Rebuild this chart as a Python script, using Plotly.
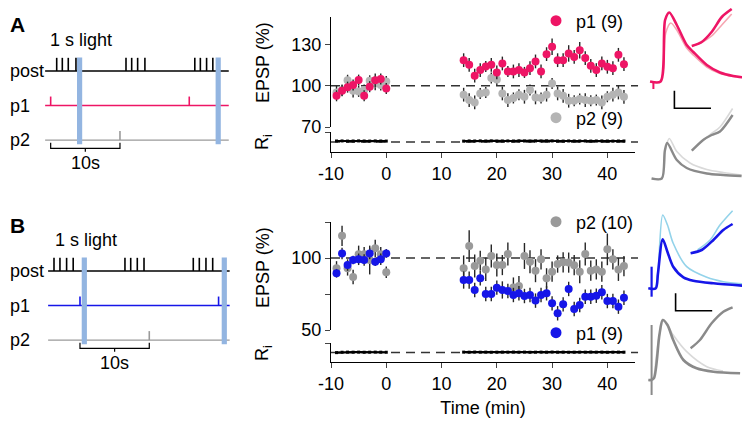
import plotly.graph_objects as go

# the page keeps the browser's 8px body margin, so the figure is drawn that much smaller
PAGE_W, PAGE_H = 750, 421
OFF = 8
W, H = PAGE_W - OFF, PAGE_H - OFF
FONT = "Liberation Sans, Arial, Helvetica, sans-serif"

PINK = "#ee1565"
PINK_LIGHT = "#f6a6b2"
GRAY_A = "#b4b4b4"
GRAY_B = "#9a9a9a"
GRAY_DARK = "#8a8a8a"
GRAY_LIGHT = "#d9d9d9"
BLUE = "#1616e8"
BLUE_LIGHT = "#93d3ea"
LIGHT_BAR = "#93b5e1"
ERR = "#262626"

# ---------------- time course (min) ----------------
TIME_PRE = [-9, -8, -7, -6, -5, -4, -3, -2, -1, 0]
TIME_POST = [14, 15, 16, 17, 18, 19, 20, 21, 22, 23, 24, 25, 26, 27, 28,
             29, 30, 31, 32, 33, 34, 35, 36, 37, 38, 39, 40, 41, 42, 43]
TIME_TICKS = [-10, 0, 10, 20, 30, 40]
TIME_TICK_LABELS = ["-10", "0", "10", "20", "30", "40"]

# panel A, EPSP (% of baseline)
A_P1_PRE = [92.7, 96.4, 99.0, 100.5, 104.1, 92.7, 99.3, 104.0, 104.9, 98.0]
A_P1_PRE_ERR = [4, 4, 4, 4, 4, 4, 4, 5, 4, 4]
A_P2_PRE = [95.1, 96.9, 104.0, 96.4, 95.9, 97.0, 103.6, 101.7, 100.5, 103.1]
A_P2_PRE_ERR = [5, 4, 4, 5, 4, 4, 4, 5, 4, 4]
A_P1_POST = [118.6, 115.2, 107.3, 111.4, 114.0, 115.2, 109.7, 116.2, 110.4, 110.4,
             111.4, 109.7, 112.8, 117.7, 110.4, 123.0, 128.3, 118.6, 118.6, 123.5,
             121.0, 125.9, 120.1, 114.5, 111.4, 116.2, 113.8, 112.8, 122.5, 115.7]
A_P1_POST_ERR = [5, 5, 5, 5, 4, 5, 5, 5, 4, 5, 5, 4, 5, 5, 5,
                 5, 6, 5, 5, 6, 5, 6, 5, 5, 5, 5, 5, 5, 5, 5]
A_P2_POST = [93.5, 89.6, 87.9, 94.4, 95.1, 105.6, 104.5, 94.4, 89.6, 91.1,
             93.5, 92.0, 96.9, 91.5, 91.1, 93.5, 101.7, 94.4, 92.7, 89.1,
             89.1, 90.3, 89.6, 89.1, 89.6, 87.9, 92.0, 93.5, 95.1, 92.0]
A_P2_POST_ERR = [5, 5, 5, 4, 4, 4, 4, 5, 5, 4, 4, 5, 4, 5, 4,
                 5, 4, 5, 5, 5, 4, 4, 5, 4, 4, 5, 4, 5, 5, 5]

# panel B, EPSP (% of baseline)
B_P1_PRE = [89.4, 103.2, 95.1, 98.6, 99.1, 98.6, 103.2, 97.4, 99.1, 103.2]
B_P1_PRE_ERR = [3, 4, 4, 3, 4, 4, 4, 3, 4, 3]
B_P2_PRE = [92.8, 115.4, 92.8, 86.8, 102.6, 102.6, 98.6, 106.7, 102.6, 90.1]
B_P2_PRE_ERR = [5, 7, 5, 5, 6, 5, 10, 6, 5, 4]
B_P1_POST = [84.7, 84.7, 77.8, 85.9, 75.0, 75.0, 79.4, 77.8, 77.1, 74.3,
             75.5, 73.6, 74.3, 70.4, 74.3, 75.5, 68.5, 61.6, 67.8, 78.5,
             64.6, 67.4, 73.1, 73.1, 73.8, 76.2, 70.1, 70.1, 66.2, 72.4]
B_P1_POST_ERR = [6, 6, 5, 5, 5, 5, 5, 6, 5, 5, 5, 5, 5, 5, 5,
                 5, 5, 5, 5, 5, 5, 5, 5, 5, 5, 5, 5, 5, 5, 5]
B_P2_POST = [92.8, 108.3, 94.4, 98.1, 92.1, 101.4, 95.1, 95.1, 102.8, 79.5,
             80.5, 101.4, 97.4, 91.2, 99.1, 85.9, 90.5, 95.8, 97.0, 96.8,
             95.0, 90.5, 102.8, 91.2, 92.1, 90.5, 106.0, 99.1, 92.1, 94.4]
B_P2_POST_ERR = [9, 11, 8, 7, 8, 8, 8, 7, 8, 7, 7, 9, 8, 8, 7,
                 7, 7, 6, 7, 7, 7, 8, 8, 7, 7, 7, 11, 7, 8, 7]

# input resistance (% of baseline)
RI_A_PRE = [101.5, 101.6, 101.4, 101.5, 101.7, 101.5, 101.4, 101.6, 101.5, 101.4]
RI_A_POST = [101.3, 101.6, 101.5, 101.7, 101.5, 101.6, 101.4, 101.5, 101.6, 101.5,
             101.7, 101.5, 101.4, 101.6, 101.5, 101.7, 101.6, 101.5, 101.4, 101.6,
             101.5, 101.5, 101.6, 101.4, 101.5, 101.6, 101.5, 101.4, 101.5, 101.5]
RI_B_PRE = [99.8, 100.4, 100.6, 100.5, 100.6, 100.4, 100.5, 100.6, 100.5, 100.4]
RI_B_POST = [100.6, 100.5, 100.7, 100.5, 100.6, 100.4, 100.5, 100.6, 100.5, 100.7,
             100.5, 100.6, 100.4, 100.5, 100.6, 100.5, 100.7, 100.5, 100.6, 100.4,
             100.5, 100.6, 100.5, 100.7, 100.5, 100.6, 100.4, 100.5, 100.6, 100.5]
BASELINE = 100
RI_BASELINE = 100

# ---------------- pairing protocol schematic (s) ----------------
ROWS = {"post": 2, "p1": 1, "p2": 0}
A_LINE_SPAN = [-0.8, 25.7]
A_BURSTS = [0.87, 1.68, 2.54, 3.65, 10.87, 11.69, 12.55, 13.6, 20.8, 21.6, 22.5, 23.4]
A_LIGHT = [3.8, 23.8]
A_P1_STIM = [0, 20]
A_P2_STIM = [10]
B_LINE_SPAN = [-4.6, 21.6]
B_BURSTS = [-3.75, -2.89, -1.93, -0.98, 6.49, 7.32, 8.27, 9.24, 16.35, 17.22, 18.18, 19.15]
B_LIGHT = [0.25, 20.45]
B_P1_STIM = [0, 20]
B_P2_STIM = [10]
LIGHT_DUR = 0.75
INTERVAL = [0, 10]

# ---------------- example EPSP traces (ms, mV) ----------------
A1_T = [0.7, 4.2, 5.7, 7.1, 9.6, 12.9, 15.1, 19.6, 24.0, 28.4, 32.3]
A1_POST = [2.05, 2.05, 8.2, 8.95, 7.7, 5.7, 5.0, 3.7, 2.95, 2.6, 2.45]
A1_BASE_T = [0.7, 4.2, 5.9, 7.6, 9.6, 12.9, 15.1, 19.6, 24.0, 28.4, 32.3]
A1_BASE = [2.05, 2.05, 6.9, 7.9, 7.2, 5.4, 4.7, 3.5, 2.85, 2.55, 2.45]
A1_INSET_T = [14.6, 17.9, 21.2, 24.6, 27.9]
A1_INSET_POST = [5.6, 6.0, 7.0, 8.5, 9.3]
A1_INSET_BASE = [5.6, 5.95, 6.6, 7.7, 8.8]
A1_ARTIFACT_T = [1.8, 1.8]
A1_ARTIFACT = [2.05, 1.3]

A2_T = [1.2, 4.6, 5.6, 6.4, 9.6, 12.9, 19.6, 25.1, 31.2]
A2_POST = [1.15, 1.15, 3.9, 4.7, 3.0, 2.2, 1.65, 1.5, 1.4]
A2_BASE_T = [1.2, 4.6, 5.9, 7.1, 9.6, 14.0, 19.6, 25.1, 31.2]
A2_BASE = [1.15, 1.15, 4.2, 5.15, 3.85, 2.7, 2.05, 1.75, 1.5]
A2_INSET_T = [14.6, 18.4, 21.2, 24.0, 28.2]
A2_INSET_POST = [3.93, 5.0, 5.5, 5.85, 7.5]
A2_INSET_BASE = [3.93, 5.0, 5.65, 6.3, 8.15]

B1_T = [0.1, 2.6, 3.3, 4.9, 6.5, 8.4, 11.8, 15.1, 21.8, 31.8]
B1_POST = [0.17, 0.17, 1.6, 5.07, 3.8, 2.33, 1.27, 0.93, 0.67, 0.43]
B1_BASE_T = [2.6, 3.4, 4.9, 6.5, 8.4, 12.9, 19.6, 25.1, 31.8]
B1_BASE = [0.17, 2.0, 7.5, 6.5, 4.67, 2.33, 1.27, 0.83, 0.6]
B1_INSET_T = [14.2, 17.9, 21.8, 25.1, 28.2]
B1_INSET_POST = [3.67, 4.0, 5.0, 6.0, 6.6]
B1_INSET_BASE_T = [16.5, 20.7, 24.0, 28.2]
B1_INSET_BASE = [4.0, 5.0, 6.5, 7.93]
B1_ARTIFACT_T = [1.2, 1.2]
B1_ARTIFACT = [2.33, -0.67]

B2_T = [0.1, 1.0, 2.0, 3.8, 4.9, 6.5, 8.4, 11.8, 16.2, 21.8, 30.7]
B2_POST = [1.0, 1.0, 1.2, 5.5, 7.0, 6.5, 5.0, 3.0, 2.17, 1.83, 1.67]
B2_BASE_T = [2.0, 3.8, 5.3, 8.4, 12.9, 19.6, 25.0]
B2_BASE = [1.2, 5.5, 7.0, 5.5, 3.83, 2.33, 1.9]
B2_INSET_T = [14.2, 17.3, 21.2, 25.1, 28.2]
B2_INSET_POST = [4.17, 5.0, 6.67, 7.83, 8.27]
B2_ARTIFACT_T = [1.2, 1.2]
B2_ARTIFACT = [6.5, -0.5]

SCALEBAR_MS = 12.2
SCALEBAR_MV = 1.75
A_SCALEBAR_AT = (8.8, -0.63)
B_SCALEBAR_AT = (9.2, -2.07)


# page pixel -> paper fraction
def fx(px):
    return min(1.0, max(0.0, (px - OFF) / W))


def fy(py):
    return min(1.0, max(0.0, 1 - (py - OFF) / H))


def xdom(left, right):
    return [fx(left), fx(right)]


def ydom(top, bottom):
    return [fy(bottom), fy(top)]


def join(a, b):
    return list(a) + [None] + list(b)


fig = go.Figure()


# ---- schematic ----
def add_schematic(xa, ya, span, bursts, p1_stim, p2_stim, p1_color):
    kw = dict(xaxis=xa, yaxis=ya, mode="lines", showlegend=False, hoverinfo="skip")
    for row, color in (("post", "black"), ("p1", p1_color), ("p2", GRAY_B)):
        fig.add_trace(go.Scatter(x=span, y=[ROWS[row]] * 2,
                                 line=dict(color=color, width=1.4), **kw))
    for times, row, h, color in ((bursts, "post", 0.38, "black"),
                                 (p1_stim, "p1", 0.26, p1_color),
                                 (p2_stim, "p2", 0.26, GRAY_B)):
        xs, ys = [], []
        for t in times:
            xs += [t, t, None]
            ys += [ROWS[row], ROWS[row] + h, None]
        fig.add_trace(go.Scatter(x=xs, y=ys, line=dict(color=color, width=1.6), **kw))
    # 10 s bracket
    a, b = INTERVAL
    mid = (a + b) / 2
    fig.add_trace(go.Scatter(x=[a, a, b, b, None, mid, mid],
                             y=[-0.08, -0.24, -0.24, -0.08, None, -0.24, -0.34],
                             line=dict(color="black", width=1.2), **kw))


add_schematic("x", "y", A_LINE_SPAN, A_BURSTS, A_P1_STIM, A_P2_STIM, PINK)
add_schematic("x2", "y2", B_LINE_SPAN, B_BURSTS, B_P1_STIM, B_P2_STIM, BLUE)

for xr, yr, lights in (("x", "y", A_LIGHT), ("x2", "y2", B_LIGHT)):
    for t in lights:
        fig.add_shape(type="rect", xref=xr, yref=yr, x0=t, x1=t + LIGHT_DUR,
                      y0=-0.12, y1=2.39, fillcolor=LIGHT_BAR, line_width=0, layer="above")


# ---- time courses ----
def add_course(xa, ya, pre, pre_err, post, post_err, color, size=8):
    fig.add_trace(go.Scatter(
        x=join(TIME_PRE, TIME_POST), y=join(pre, post), xaxis=xa, yaxis=ya,
        mode="markers", marker=dict(color=color, size=size, line_width=0),
        error_y=dict(type="data", array=join(pre_err, post_err), color=ERR,
                     thickness=1.4, width=0),
        showlegend=False, hoverinfo="skip"))


add_course("x3", "y3", A_P2_PRE, A_P2_PRE_ERR, A_P2_POST, A_P2_POST_ERR, GRAY_A)
add_course("x3", "y3", A_P1_PRE, A_P1_PRE_ERR, A_P1_POST, A_P1_POST_ERR, PINK)
add_course("x4", "y5", B_P2_PRE, B_P2_PRE_ERR, B_P2_POST, B_P2_POST_ERR, GRAY_B)
add_course("x4", "y5", B_P1_PRE, B_P1_PRE_ERR, B_P1_POST, B_P1_POST_ERR, BLUE)

for xa, ya, pre, post in (("x3", "y4", RI_A_PRE, RI_A_POST), ("x4", "y6", RI_B_PRE, RI_B_POST)):
    fig.add_trace(go.Scatter(
        x=join(TIME_PRE, TIME_POST), y=join(pre, post), xaxis=xa, yaxis=ya,
        mode="lines+markers", line=dict(color="black", width=2.2),
        marker=dict(symbol="square", size=3, color="black"),
        showlegend=False, hoverinfo="skip"))

# legend entries
for name, color, leg in (("p1 (9)", PINK, "legend"), ("p2 (9)", GRAY_A, "legend2"),
                         ("p2 (10)", GRAY_B, "legend3"), ("p1 (9)", BLUE, "legend4")):
    fig.add_trace(go.Scatter(x=[None], y=[None], xaxis="x3", yaxis="y3", mode="markers",
                             marker=dict(color=color, size=11), name=name, legend=leg))

# dashed reference lines
for xr, yr, val in (("x3", "y3", BASELINE), ("x3", "y4", RI_BASELINE),
                    ("x4", "y5", BASELINE), ("x4", "y6", RI_BASELINE)):
    fig.add_shape(type="line", xref=f"{xr} domain", yref=yr, x0=0, x1=1.01, y0=val, y1=val,
                  line=dict(color="#333333", width=1.4, dash="9px,6px"), layer="below")


# ---- example traces ----
def wave(xa, ya, t, v, color, width):
    fig.add_trace(go.Scatter(x=t, y=v, xaxis=xa, yaxis=ya, mode="lines",
                             line=dict(color=color, width=width, shape="spline", smoothing=0.8),
                             showlegend=False, hoverinfo="skip"))


def scalebar(xa, ya, at):
    t0, v0 = at
    fig.add_trace(go.Scatter(x=[t0, t0, t0 + SCALEBAR_MS], y=[v0 + SCALEBAR_MV, v0, v0],
                             xaxis=xa, yaxis=ya, mode="lines",
                             line=dict(color="black", width=1.6),
                             showlegend=False, hoverinfo="skip"))


wave("x5", "y7", A1_BASE_T, A1_BASE, PINK_LIGHT, 1.6)
wave("x5", "y7", A1_T, A1_POST, PINK, 2.6)
wave("x5", "y7", A1_INSET_T, A1_INSET_BASE, PINK_LIGHT, 1.6)
wave("x5", "y7", A1_INSET_T, A1_INSET_POST, PINK, 2.6)
wave("x5", "y7", A1_ARTIFACT_T, A1_ARTIFACT, PINK, 2.0)
scalebar("x5", "y7", A_SCALEBAR_AT)

wave("x6", "y8", A2_BASE_T, A2_BASE, GRAY_LIGHT, 1.6)
wave("x6", "y8", A2_T, A2_POST, GRAY_DARK, 2.4)
wave("x6", "y8", A2_INSET_T, A2_INSET_BASE, GRAY_LIGHT, 1.6)
wave("x6", "y8", A2_INSET_T, A2_INSET_POST, GRAY_DARK, 2.4)

wave("x7", "y9", B1_BASE_T, B1_BASE, BLUE_LIGHT, 1.6)
wave("x7", "y9", B1_T, B1_POST, BLUE, 2.6)
wave("x7", "y9", B1_INSET_BASE_T, B1_INSET_BASE, BLUE_LIGHT, 1.6)
wave("x7", "y9", B1_INSET_T, B1_INSET_POST, BLUE, 2.6)
wave("x7", "y9", B1_ARTIFACT_T, B1_ARTIFACT, BLUE, 2.2)
scalebar("x7", "y9", B_SCALEBAR_AT)

wave("x8", "y10", B2_BASE_T, B2_BASE, GRAY_LIGHT, 1.6)
wave("x8", "y10", B2_T, B2_POST, GRAY_DARK, 2.6)
wave("x8", "y10", B2_INSET_T, B2_INSET_POST, GRAY_DARK, 2.4)
wave("x8", "y10", B2_ARTIFACT_T, B2_ARTIFACT, GRAY_DARK, 2.0)

# ---------------- layout ----------------
FS = 18
hidden = dict(visible=False, fixedrange=True)
tick_font = dict(family=FONT, size=FS, color="black")
main_x = dict(range=[-10, 45], tickvals=TIME_TICKS, ticktext=TIME_TICK_LABELS, ticks="outside",
              ticklen=5, tickwidth=1.2, showline=True, linecolor="black", linewidth=1.2,
              showgrid=False, zeroline=False, tickfont=tick_font)
main_y = dict(ticks="outside", ticklen=5, tickwidth=1.2, showline=True, linecolor="black",
              linewidth=1.2, showgrid=False, zeroline=False, tickfont=tick_font)
ri_y = dict(main_y, range=[85, 115], tickvals=[115], ticktext=[" "])

schem_y = dict(hidden, range=[-1.01, 3.33])
wave_x = dict(hidden, range=[-1, 34], domain=xdom(645, 750))


def legend_at(xpx, ypx):
    return dict(x=fx(xpx - 20), y=fy(ypx), xanchor="left", yanchor="middle",
                bgcolor="rgba(0,0,0,0)", font=dict(family=FONT, size=FS, color="black"),
                itemwidth=30)


fig.update_layout(
    width=W, height=H, margin=dict(l=0, r=0, t=0, b=0, autoexpand=False),
    paper_bgcolor="white", plot_bgcolor="rgba(0,0,0,0)",
    font=dict(family=FONT, size=FS, color="black"),
    xaxis=dict(hidden, range=[-1.54, 26.6], domain=xdom(40, 235)),
    yaxis=dict(schem_y, domain=ydom(25, 175)),
    xaxis2=dict(hidden, range=[-5.77, 22.37], domain=xdom(40, 235)),
    yaxis2=dict(schem_y, domain=ydom(225, 375)),
    xaxis3=dict(main_x, domain=xdom(331, 635), anchor="y4"),
    yaxis3=dict(main_y, range=[70, 150], tickvals=[70, 100, 130], domain=ydom(17, 127),
                anchor="x3"),
    yaxis4=dict(ri_y, domain=ydom(132, 152), anchor="x3"),
    xaxis4=dict(main_x, domain=xdom(331, 635), anchor="y6",
                title=dict(text="Time (min)", font=tick_font, standoff=8)),
    yaxis5=dict(main_y, range=[50, 125], tickvals=[50, 75, 100, 125],
                ticktext=["50", " ", "100", " "], domain=ydom(222, 330), anchor="x4"),
    yaxis6=dict(ri_y, domain=ydom(343, 362), anchor="x4"),
    xaxis5=dict(wave_x, anchor="y7"),
    yaxis7=dict(hidden, range=[-1, 9.4], domain=ydom(8, 112), anchor="x5"),
    xaxis6=dict(wave_x, anchor="y8"),
    yaxis8=dict(hidden, range=[-1, 8.5], domain=ydom(105, 200), anchor="x6"),
    xaxis7=dict(wave_x, anchor="y9"),
    yaxis9=dict(hidden, range=[-2.5, 8.5], domain=ydom(205, 315), anchor="x7"),
    xaxis8=dict(wave_x, anchor="y10"),
    yaxis10=dict(hidden, range=[-1, 9], domain=ydom(300, 400), anchor="x8"),
    legend=legend_at(556, 21),
    legend2=legend_at(556, 118),
    legend3=legend_at(556, 222),
    legend4=legend_at(556, 333),
)

label_font = dict(family=FONT, size=FS, color="black")
for text, ypx in (("<b>A</b>", 25), ("<b>B</b>", 225)):
    fig.add_annotation(xref="paper", yref="paper", x=fx(4), y=fy(ypx), text=text,
                       xanchor="left", yanchor="middle", showarrow=False,
                       font=dict(family=FONT, size=21, color="black"))
for text, ypx in (("EPSP (%)", 63), ("R<sub>i</sub>", 142), ("EPSP (%)", 268), ("R<sub>i</sub>", 353)):
    fig.add_annotation(xref="paper", yref="paper", x=fx(263), y=fy(ypx), text=text,
                       textangle=-90, xanchor="center", yanchor="middle", showarrow=False,
                       font=label_font)

for yr, xr, light0 in (("y", "x", A_LIGHT[0]), ("y2", "x2", B_LIGHT[0])):
    for row, label in ((2, "post"), (1, "p1"), (0, "p2")):
        fig.add_annotation(xref="paper", yref=yr, x=fx(8), y=row, text=label,
                           xanchor="left", yanchor="middle", showarrow=False, font=label_font)
    fig.add_annotation(xref=xr, yref=yr, x=light0 + 0.6, y=2.9, text="1 s light",
                       xanchor="center", yanchor="middle", showarrow=False, font=label_font)
    fig.add_annotation(xref=xr, yref=yr, x=sum(INTERVAL) / 2, y=-0.66, text="10s",
                       xanchor="center", yanchor="middle", showarrow=False, font=label_font)

fig.write_html("out.html")
